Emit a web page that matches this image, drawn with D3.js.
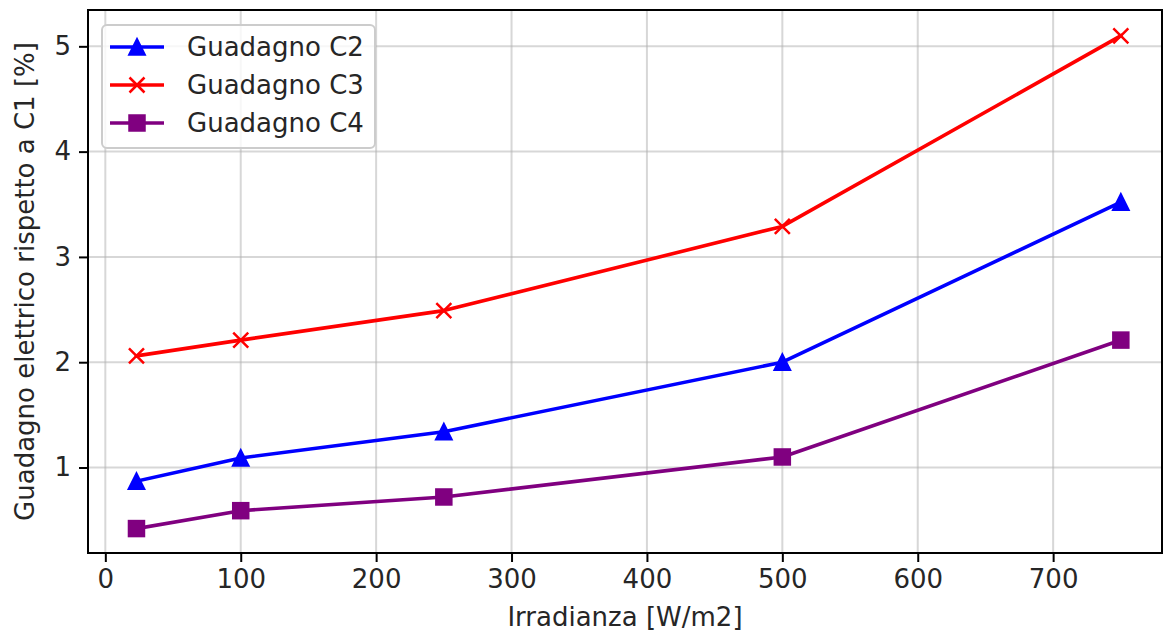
<!DOCTYPE html>
<html>
<head>
<meta charset="utf-8">
<script src="https://cdn.jsdelivr.net/npm/d3@7"></script>
<style>
  html, body { margin: 0; padding: 0; background: #fff; }
  svg { display: block; font-family: 'DejaVu Sans', sans-serif; }
</style>
</head>
<body>
<div id="chart"></div>
<script>
// Chart data.
const irradiance = [23, 100, 250, 500, 750];
const gainC2 = [0.87, 1.09, 1.34, 2.00, 3.52];
const gainC3 = [2.06, 2.21, 2.49, 3.29, 5.10];
const gainC4 = [0.42, 0.59, 0.72, 1.10, 2.21];
const seriesNames = ['Guadagno C2', 'Guadagno C3', 'Guadagno C4'];
const xTicks = [0, 100, 200, 300, 400, 500, 600, 700];
const yTicks = [1, 2, 3, 4, 5];

const width = 1164,
    height = 635,
    plot = {left: 88, right: 1162, top: 10, bottom: 553},
    fontSize = 26;

const series = [
  {name: seriesNames[0], values: gainC2, color: '#0000ff', marker: 'triangle'},
  {name: seriesNames[1], values: gainC3, color: '#ff0000', marker: 'cross'},
  {name: seriesNames[2], values: gainC4, color: '#800080', marker: 'square'}
];

let svg = d3.select('#chart').append('svg')
    .attr('width', width)
    .attr('height', height);

let xScale = d3.scaleLinear()
    .domain([-12.8, 780.4])
    .range([plot.left, plot.right]);

let yScale = d3.scaleLinear()
    .domain([0.188, 5.345])
    .range([plot.bottom, plot.top]);

// Grid lines.
svg.append('g')
    .selectAll('line.vgrid')
    .data(xTicks)
    .enter()
    .append('line')
    .attr('x1', (d) => xScale(d))
    .attr('x2', (d) => xScale(d))
    .attr('y1', plot.top)
    .attr('y2', plot.bottom)
    .style('stroke', '#b0b0b0')
    .style('stroke-opacity', 0.5)
    .style('stroke-width', 2);

svg.append('g')
    .selectAll('line.hgrid')
    .data(yTicks)
    .enter()
    .append('line')
    .attr('x1', plot.left)
    .attr('x2', plot.right)
    .attr('y1', (d) => yScale(d))
    .attr('y2', (d) => yScale(d))
    .style('stroke', '#b0b0b0')
    .style('stroke-opacity', 0.5)
    .style('stroke-width', 2);

// Marker shapes, centred on the data point.
const drawMarker = (g, type, color, x, y) => {
  if (type === 'triangle') {
    g.append('path')
        .attr('d', 'M' + x + ',' + (y - 7.5) + 'L' + (x - 7.5) + ',' + (y + 7.5) + 'L' + (x + 7.5) + ',' + (y + 7.5) + 'Z')
        .style('fill', color)
        .style('stroke', color)
        .style('stroke-width', 2.5)
        .style('stroke-linejoin', 'miter');
  } else if (type === 'square') {
    g.append('rect')
        .attr('x', x - 7.5)
        .attr('y', y - 7.5)
        .attr('width', 15)
        .attr('height', 15)
        .style('fill', color)
        .style('stroke', color)
        .style('stroke-width', 2.5);
  } else {
    g.append('path')
        .attr('d', 'M' + (x - 7.5) + ',' + (y - 7.5) + 'L' + (x + 7.5) + ',' + (y + 7.5) +
            'M' + (x - 7.5) + ',' + (y + 7.5) + 'L' + (x + 7.5) + ',' + (y - 7.5))
        .style('fill', 'none')
        .style('stroke', color)
        .style('stroke-width', 2.5);
  }
};

// Lines and markers.
let line = d3.line()
    .x((d, i) => xScale(irradiance[i]))
    .y((d) => yScale(d));

series.forEach((s) => {
  let g = svg.append('g');
  g.append('path')
      .datum(s.values)
      .attr('d', line)
      .style('fill', 'none')
      .style('stroke', s.color)
      .style('stroke-width', 3.6)
      .style('stroke-linejoin', 'round')
      .style('stroke-linecap', 'square');
  s.values.forEach((v, i) => drawMarker(g, s.marker, s.color, xScale(irradiance[i]), yScale(v)));
});

// Axes.
let xAxis = d3.axisBottom(xScale)
    .tickValues(xTicks)
    .tickSize(9)
    .tickPadding(8)
    .tickFormat(d3.format('d'));

let yAxis = d3.axisLeft(yScale)
    .tickValues(yTicks)
    .tickSize(9)
    .tickPadding(8)
    .tickFormat(d3.format('d'));

let gx = svg.append('g')
    .attr('transform', 'translate(0,' + plot.bottom + ')')
    .call(xAxis);

let gy = svg.append('g')
    .attr('transform', 'translate(' + plot.left + ',0)')
    .call(yAxis);

[gx, gy].forEach((g) => {
  g.select('.domain').remove();
  g.selectAll('.tick line').style('stroke', '#000').style('stroke-width', 2);
  g.selectAll('.tick text')
      .style('font-family', "'DejaVu Sans', sans-serif")
      .style('font-size', fontSize + 'px')
      .style('fill', '#262626');
});

// Frame around the plot area.
svg.append('rect')
    .attr('x', plot.left)
    .attr('y', plot.top)
    .attr('width', plot.right - plot.left)
    .attr('height', plot.bottom - plot.top)
    .style('fill', 'none')
    .style('stroke', '#000')
    .style('stroke-width', 2);

// Axis labels.
svg.append('text')
    .attr('x', (plot.left + plot.right) / 2)
    .attr('y', 626)
    .attr('text-anchor', 'middle')
    .style('font-size', fontSize + 'px')
    .style('fill', '#262626')
    .text('Irradianza [W/m2]');

svg.append('text')
    .attr('transform', 'translate(34,' + ((plot.top + plot.bottom) / 2) + ') rotate(-90)')
    .attr('text-anchor', 'middle')
    .style('font-size', fontSize + 'px')
    .style('fill', '#262626')
    .text('Guadagno elettrico rispetto a C1 [%]');

// Legend.
let legend = svg.append('g');

legend.append('rect')
    .attr('x', 102)
    .attr('y', 25)
    .attr('width', 273)
    .attr('height', 123)
    .attr('rx', 5)
    .style('fill', '#fff')
    .style('fill-opacity', 0.8)
    .style('stroke', '#cccccc')
    .style('stroke-width', 2);

series.forEach((s, i) => {
  let y = 47 + i * 38;
  legend.append('line')
      .attr('x1', 110)
      .attr('x2', 164)
      .attr('y1', y)
      .attr('y2', y)
      .style('stroke', s.color)
      .style('stroke-width', 3.6);
  drawMarker(legend, s.marker, s.color, 137, y);
  legend.append('text')
      .attr('x', 187)
      .attr('y', y + 9)
      .style('font-size', fontSize + 'px')
      .style('fill', '#262626')
      .text(s.name);
});
</script>
</body>
</html>
